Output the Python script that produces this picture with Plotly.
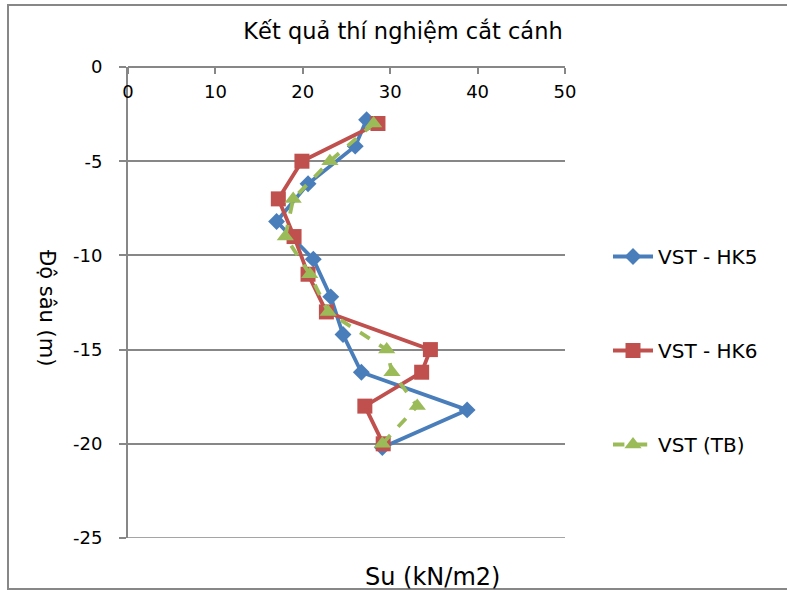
import plotly.graph_objects as go

# Data
hk5_su = [27.3, 26.0, 20.6, 17.0, 21.2, 23.2, 24.6, 26.7, 38.8, 29.1]
hk5_depth = [-2.8, -4.2, -6.2, -8.2, -10.2, -12.2, -14.2, -16.2, -18.2, -20.2]

hk6_su = [28.6, 19.9, 17.2, 19.0, 20.6, 22.7, 34.6, 33.6, 27.1, 29.2]
hk6_depth = [-3.0, -5.0, -7.0, -9.0, -11.0, -13.0, -15.0, -16.2, -18.0, -20.0]

tb_su = [28.1, 23.1, 18.9, 18.0, 20.8, 22.9, 29.6, 30.2, 33.1, 29.1]
tb_depth = [-3.0, -5.0, -7.0, -9.0, -11.0, -13.0, -15.0, -16.2, -18.0, -20.0]

x_ticks = [0, 10, 20, 30, 40, 50]
y_ticks = [0, -5, -10, -15, -20, -25]
y_tick_text = ["0", "-5", "-10", "-15", "-20", "-25"]

BLUE = "#4A7EBB"
RED = "#C0504D"
GREEN = "#9BBB59"
GRAY = "#878787"
FONT = "DejaVu Sans"

fig = go.Figure()
fig.add_trace(go.Scatter(x=hk5_su, y=hk5_depth, mode="lines+markers", name="VST - HK5",
                         legendgroup="a",
                         line=dict(color=BLUE, width=3.8),
                         marker=dict(symbol="diamond", size=13, color=BLUE)))
fig.add_trace(go.Scatter(x=hk6_su, y=hk6_depth, mode="lines+markers", name="VST - HK6",
                         legendgroup="b",
                         line=dict(color=RED, width=3.8),
                         marker=dict(symbol="square", size=15, color=RED)))
fig.add_trace(go.Scatter(x=tb_su, y=tb_depth, mode="lines+markers", name="VST (TB)",
                         legendgroup="c",
                         line=dict(color=GREEN, width=3.8, dash="dash"),
                         marker=dict(symbol="triangle-up", size=15, color=GREEN)))

fig.update_layout(
    width=787, height=590,
    margin=dict(l=128, r=222, t=67, b=52),
    paper_bgcolor="white", plot_bgcolor="white",
    font=dict(family=FONT, size=18, color="black"),
    title=dict(text="Kết quả thí nghiệm cắt cánh", x=403/787, xanchor="center",
               y=1 - 31/590, yanchor="middle",
               font=dict(family=FONT, size=22.5, color="black")),
    xaxis=dict(range=[0, 50], tickvals=x_ticks, side="bottom", anchor="free", position=1.0,
               showgrid=False,
               showline=True, linecolor=GRAY, linewidth=2,
               ticks="outside", ticklen=6, tickcolor=GRAY, tickwidth=1.5,
               ticklabelstandoff=2,
               tickfont=dict(family=FONT, size=18, color="black"), zeroline=False),
    yaxis=dict(range=[-25, 0], tickvals=y_ticks, ticktext=y_tick_text,
               showgrid=True, gridcolor=GRAY,
               gridwidth=1.5, showline=True, linecolor=GRAY, linewidth=2,
               ticks="outside", ticklen=7, tickcolor=GRAY, tickwidth=1.5,
               ticklabelstandoff=13,
               tickfont=dict(family=FONT, size=18, color="black"), zeroline=False),
    legend=dict(x=(608 - 128) / 437, xanchor="left", y=(538 - 237) / 471, yanchor="top",
                font=dict(family=FONT, size=20, color="black"), tracegroupgap=65,
                bgcolor="rgba(0,0,0,0)", itemwidth=40),
    showlegend=True,
)

fig.add_annotation(text="Su (kN/m2)", xref="paper", yref="paper",
                   x=(432 - 128) / 437, y=(538 - 577) / 471, showarrow=False,
                   font=dict(family=FONT, size=24, color="black"),
                   xanchor="center", yanchor="middle")
fig.add_annotation(text="Độ sâu (m)", xref="paper", yref="paper",
                   x=(47 - 128) / 437, y=(538 - 308) / 471, showarrow=False,
                   textangle=90,
                   font=dict(family=FONT, size=21, color="black"),
                   xanchor="center", yanchor="middle")

# bottom gridline at the range edge
fig.add_shape(type="line", xref="paper", yref="y", x0=0, x1=1, y0=-25, y1=-25,
              line=dict(color=GRAY, width=1.5), layer="below")

# outer chart border
fig.add_shape(type="rect", xref="paper", yref="paper",
              x0=(8 - 128) / 437, x1=(800 - 128) / 437,
              y0=(538 - 589) / 471, y1=(538 - 5) / 471,
              line=dict(color=GRAY, width=2), fillcolor="rgba(0,0,0,0)", layer="below")

fig.write_html("out.html")
